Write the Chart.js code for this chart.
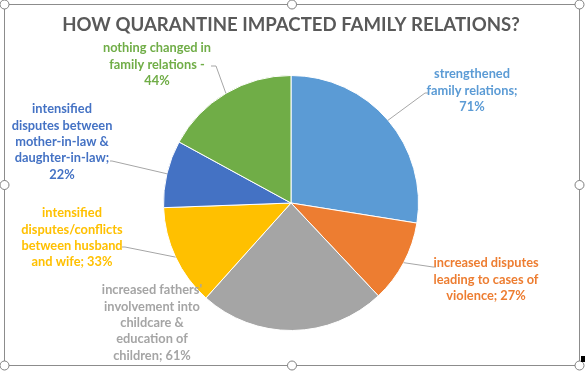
<!DOCTYPE html>
<html>
<head>
<meta charset="utf-8">
<script src="https://cdn.jsdelivr.net/npm/chart.js@4.4.1/dist/chart.umd.min.js"></script>
<style>
	html, body { margin: 0; padding: 0; background: #fff; }
	#wrap { width: 586px; height: 372px; position: relative; }
</style>
</head>
<body>
<div id="wrap"><canvas id="myChart" width="586" height="372"></canvas></div>
<script>
// 데이터
const chartTitle = 'HOW QUARANTINE IMPACTED FAMILY RELATIONS?';
const categories = [
	'strengthened family relations',
	'increased disputes leading to cases of violence',
	'increased fathers\' involvement into childcare & education of children',
	'intensified disputes/conflicts between husband and wife',
	'intensified disputes between mother-in-law & daughter-in-law',
	'nothing changed in family relations'
];
const values = [71, 27, 61, 33, 22, 44]; // %
const sliceColors = ['#5B9BD5', '#ED7D31', '#A5A5A5', '#FFC000', '#4472C4', '#70AD47'];

// 라벨 줄바꿈 (엑셀 데이터 레이블 모양)
const labelLines = [
	['strengthened', 'family relations;', '71%'],
	['increased disputes', 'leading to cases of', 'violence; 27%'],
	['increased fathers\'', 'involvement into', 'childcare &', 'education of', 'children; 61%'],
	['intensified', 'disputes/conflicts', 'between husband', 'and wife; 33%'],
	['intensified', 'disputes between', 'mother-in-law &', 'daughter-in-law;', '22%'],
	['nothing changed in', 'family relations -', '44%']
];
// 라벨 위치 (중심 x, 첫 줄 y) 와 지시선 꺾임점
const labelPos = [[472, 74], [486, 263], [152, 290], [72, 213], [62, 109], [157, 48]];
const leaderPts = [
	[[425, 93], [429, 93]],
	[[433, 267], [436, 267]],
	null,
	[[125, 247], [122, 247]],
	[[112, 161], [110, 161]],
	[[216, 66], [211, 66]]
];

const LABEL_FONT = 'bold 12.8px Lato, "Open Sans", sans-serif';
const LINE_H = 16.4;

const decoPlugin = {
	id: 'deco',
	afterDatasetsDraw(chart) {
		const c = chart.ctx;
		const arcs = chart.getDatasetMeta(0).data;
		c.save();
		// 제목
		c.fillStyle = '#595959';
		c.font = 'bold 18.6px Lato, "Open Sans", sans-serif';
		c.textAlign = 'center';
		c.textBaseline = 'middle';
		c.fillText(chartTitle, 291, 25);

		// 지시선
		c.strokeStyle = '#A6A6A6';
		c.lineWidth = 1;
		arcs.forEach((a, i) => {
			if (!leaderPts[i]) return;
			const mid = (a.startAngle + a.endAngle) / 2;
			const px = a.x + Math.cos(mid) * a.outerRadius;
			const py = a.y + Math.sin(mid) * a.outerRadius;
			c.beginPath();
			c.moveTo(px, py);
			leaderPts[i].forEach(p => c.lineTo(p[0], p[1]));
			c.stroke();
		});

		// 라벨
		c.font = LABEL_FONT;
		labelLines.forEach((lines, i) => {
			c.fillStyle = sliceColors[i];
			lines.forEach((t, j) => c.fillText(t, labelPos[i][0], labelPos[i][1] + j * LINE_H));
		});

		// 선택 테두리 + 핸들
		c.strokeStyle = '#8C8C8C';
		c.strokeRect(4.5, 4.5, 575, 361);
		const handles = [[4.5, 4.5], [292, 4.5], [579.5, 4.5], [4.5, 185], [579.5, 185], [4.5, 365.5], [292, 365.5], [579.5, 365.5]];
		handles.forEach(h => {
			c.beginPath();
			c.arc(h[0], h[1], 4.5, 0, Math.PI * 2);
			c.fillStyle = '#fff';
			c.fill();
			c.strokeStyle = '#7F7F7F';
			c.stroke();
		});
		c.fillStyle = '#000';
		c.fillRect(581, 356, 4, 6);
		c.restore();
	}
};

const ctx = document.getElementById('myChart');
new Chart(ctx, {
	type: 'pie',
	data: {
		labels: categories,
		datasets: [{
			data: values,
			backgroundColor: sliceColors,
			borderColor: '#fff',
			borderWidth: 1
		}]
	},
	options: {
		responsive: false,
		animation: false,
		layout: { padding: { top: 75, bottom: 41, left: 163, right: 167 } },
		plugins: {
			legend: { display: false },
			tooltip: { enabled: false }
		}
	},
	plugins: [decoPlugin]
});
</script>
</body>
</html>
